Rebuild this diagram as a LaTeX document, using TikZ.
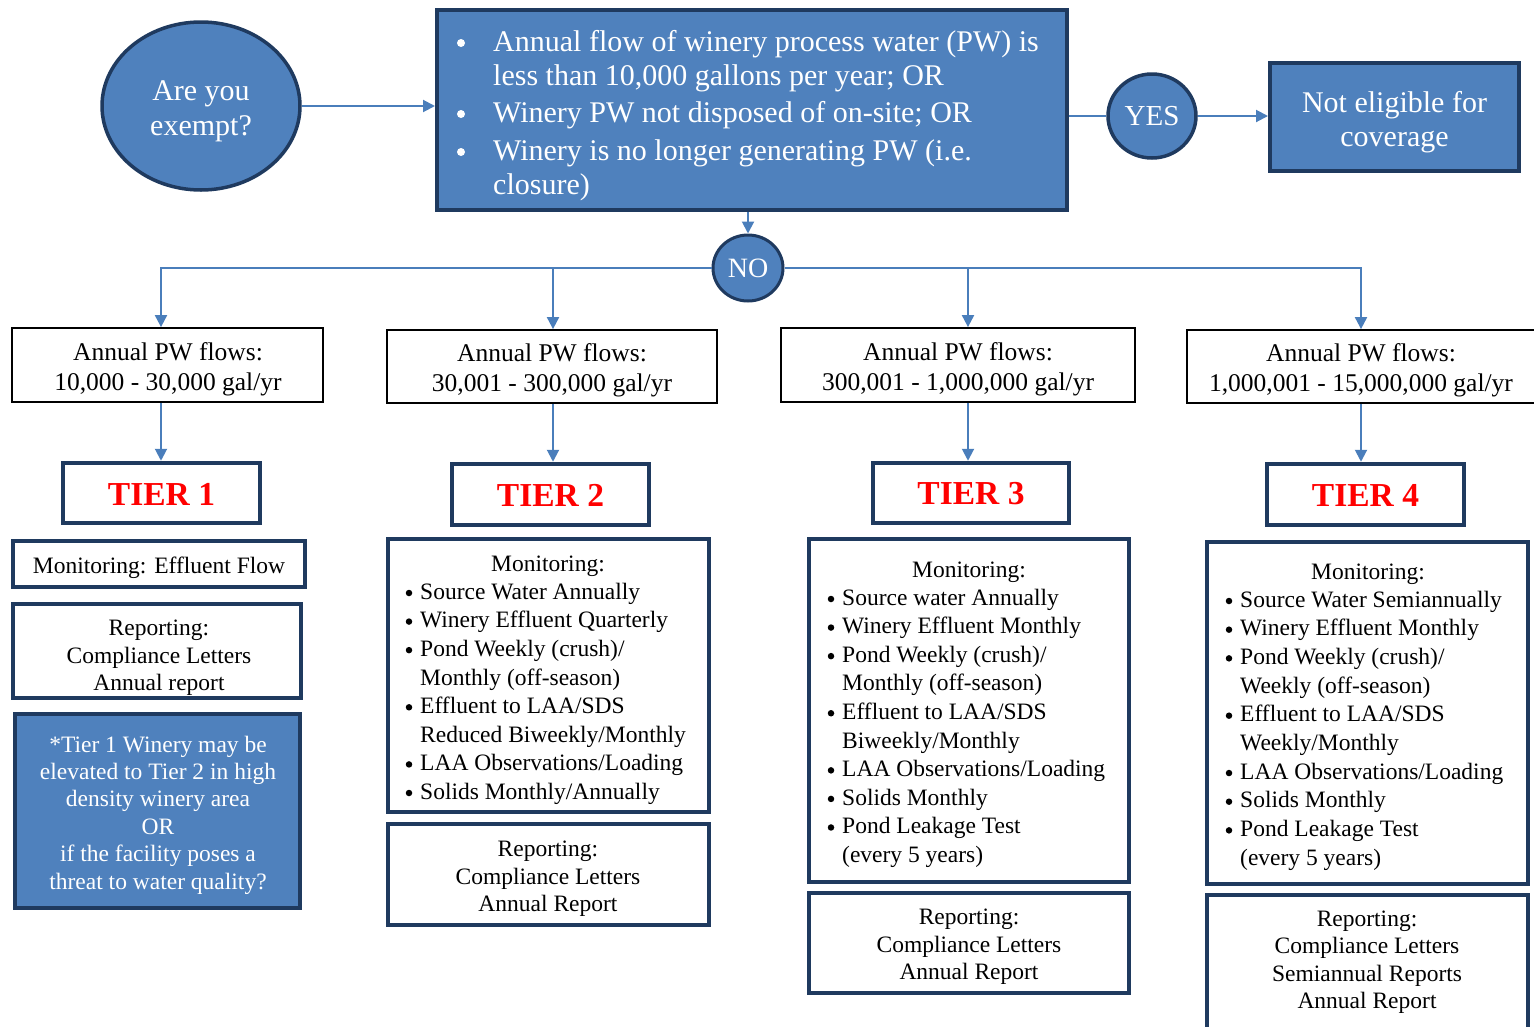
\documentclass[tikz,border=0pt]{standalone}
\usepackage{fontspec}
\setmainfont{Liberation Serif}
\usetikzlibrary{arrows.meta,shapes.geometric}
\definecolor{fillblue}{HTML}{4F81BD}
\definecolor{navy}{HTML}{1F3A5F}
\definecolor{arrowblue}{HTML}{4A7EBB}
\tikzset{
 bluebox/.style={rectangle, draw=navy, line width=4pt, fill=fillblue, inner sep=0},
 tierbox/.style={rectangle, draw=navy, line width=4.5pt, fill=white, inner sep=0},
 flowbox/.style={rectangle, draw=black, line width=1.8pt, fill=white, inner sep=0},
 infobox/.style={rectangle, draw=navy, line width=4pt, fill=white, inner sep=0},
 bluecirc/.style={ellipse, draw=navy, line width=3.5pt, fill=fillblue, text=white, inner sep=0, align=center},
 conn/.style={draw=arrowblue, line width=2pt},
 arr/.style={conn, -{Triangle[length=12pt,width=12pt]}},
 lbl/.style={font=\fontsize{23.5}{27.5}\selectfont, align=center, inner sep=0},
 flowlbl/.style={font=\fontsize{25.5}{30}\selectfont, align=center, inner sep=0},
 item/.style={font=\fontsize{23.5}{27.5}\selectfont, anchor=mid west, inner sep=0},
 bul/.style={circle, fill=black, inner sep=0, minimum size=6.5pt},
 mainitem/.style={font=\fontsize{30}{36}\selectfont, text=white, anchor=mid west, inner sep=0},
 mainbul/.style={circle, fill=white, inner sep=0, minimum size=8pt},
 tierlbl/.style={font=\fontsize{33.5}{36}\selectfont\bfseries, text=red, inner sep=0},
}
\newcommand\rbox[6]{\node[#6, minimum width={#4-#2}, minimum height={#5-#3}] (#1) at ({(#2+#4)/2},{(#3+#5)/2}) {};}
\begin{document}
\begin{tikzpicture}[x=1pt,y=-1pt]
\useasboundingbox (0,0) rectangle (1534,1026);
\begin{scope}
\clip (0,0) rectangle (1534,1026);
% top row
\node[bluecirc, minimum width=198pt, minimum height=168pt, font=\fontsize{30}{35}\selectfont] (q) at (201,106) {};
\node[font=\fontsize{30}{35}\selectfont, text=white, align=center, inner sep=0] (qt) at (201,111) {Are you\\exempt?};
\rbox{main}{437}{10}{1067}{210}{bluebox}
\node[mainbul] (mb1) at (461,43) {};
\node[mainitem] (m1) at (493,49) {Annual flow of winery process water (PW) is};
\node[mainitem] (m1b) at (493,83) {less than 10,000 gallons per year; OR};
\node[mainbul] (mb2) at (461,114) {};
\node[mainitem] (m2) at (493,120) {Winery PW not disposed of on-site; OR};
\node[mainbul] (mb3) at (461,152) {};
\node[mainitem] (m3) at (493,158) {Winery is no longer generating PW (i.e.};
\node[mainitem] (m3b) at (493,192) {closure)};
\node[bluecirc, minimum width=88pt, minimum height=84pt, font=\fontsize{29}{30}\selectfont] (yes) at (1152,116) {YES};
\rbox{ne}{1270}{63}{1519}{171}{bluebox}
\node[font=\fontsize{30}{34}\selectfont, text=white, align=center, inner sep=0] (netext) at (1394.5,122) {Not eligible for\\coverage};
\node[bluecirc, minimum width=70pt, minimum height=66pt, line width=3pt, font=\fontsize{28}{30}\selectfont] (no) at (748,268) {NO};
% connectors top
\draw[arr] (q.east) -- (q.east -| main.west);
\draw[conn] (yes.west -| main.east) -- (yes.west);
\draw[arr] (yes.east) -- (yes.east -| ne.west);
\draw[arr] (no.north |- main.south) -- (no.north);
\coordinate (b1) at (161,268);
\coordinate (b2) at (553,268);
\coordinate (b3) at (968,268);
\coordinate (b4) at (1361,268);
% flow boxes
\rbox{f1}{12}{328}{323}{402}{flowbox}
\rbox{f2}{387}{330}{717}{403}{flowbox}
\rbox{f3}{781}{328}{1135}{402}{flowbox}
\rbox{f4}{1187}{330}{1545}{403}{flowbox}
\node[flowlbl] (f1t) at (168,369) {Annual PW flows:\\10,000 - 30,000 gal/yr};
\node[flowlbl] (f2t) at (552,370) {Annual PW flows:\\30,001 - 300,000 gal/yr};
\node[flowlbl] (f3t) at (958,369) {Annual PW flows:\\300,001 - 1,000,000 gal/yr};
\node[flowlbl] (f4t) at (1361,370) {Annual PW flows:\\1,000,001 - 15,000,000 gal/yr};
\draw[arr] (no.west) -- (b1) -- (b1 |- f1.north);
\draw[arr] (b2) -- (b2 |- f2.north);
\draw[arr] (b3) -- (b3 |- f3.north);
\draw[arr] (no.east) -- (b4) -- (b4 |- f4.north);
% tier boxes
\rbox{t1}{63}{463}{260}{523}{tierbox}
\rbox{t2}{452}{464}{649}{525}{tierbox}
\rbox{t3}{873}{463}{1069}{523}{tierbox}
\rbox{t4}{1267}{464}{1464}{525}{tierbox}
\node[tierlbl] (t1t) at (161.5,494) {TIER 1};
\node[tierlbl] (t2t) at (550.5,495.5) {TIER 2};
\node[tierlbl] (t3t) at (971,494) {TIER 3};
\node[tierlbl] (t4t) at (1365.5,495.5) {TIER 4};
\draw[arr] (b1 |- f1.south) -- (b1 |- t1.north);
\draw[arr] (b2 |- f2.south) -- (b2 |- t2.north);
\draw[arr] (b3 |- f3.south) -- (b3 |- t3.north);
\draw[arr] (b4 |- f4.south) -- (b4 |- t4.north);
% tier 1 column
\rbox{mon1}{13}{541}{305}{587}{infobox}
\node[lbl] (mon1t) at (159,568) {Monitoring: Effluent Flow};
\rbox{rep1}{13}{604}{301}{698}{infobox}
\node[lbl] (rep1t) at (159,658) {Reporting:\\Compliance Letters\\Annual report};
\rbox{note1}{15}{714}{300}{908}{bluebox}
\node[lbl, text=white, font=\fontsize{23.5}{27.4}\selectfont] (note1t) at (158,815) {*Tier 1 Winery may be\\elevated to Tier 2 in high\\density winery area\\OR\\if the facility poses a\\threat to water quality?};
% tier 2 column
\rbox{mon2}{388}{539}{709}{812}{infobox}
\node[lbl] (mon2h) at (548,566) {Monitoring:};
\foreach \b/\t [count=\i] in {1/{Source Water Annually},1/{Winery Effluent Quarterly},1/{Pond Weekly (crush)/},0/{Monthly (off-season)},1/{Effluent to LAA/SDS},0/{Reduced Biweekly/Monthly},1/{LAA Observations/Loading},1/{Solids Monthly/Annually}}{
  \node[item] (m2-\i) at (420,{597+(\i-1)*28.57}) {\t};
  \ifnum\b=1 \node[bul] (m2b-\i) at (409,{593+(\i-1)*28.57}) {};\fi
}
\rbox{rep2}{388}{824}{709}{925}{infobox}
\node[lbl] (rep2t) at (548,879) {Reporting:\\Compliance Letters\\Annual Report};
% tier 3 column
\rbox{mon3}{809}{539}{1129}{882}{infobox}
\node[lbl] (mon3h) at (969,572) {Monitoring:};
\foreach \b/\t [count=\i] in {1/{Source water Annually},1/{Winery Effluent Monthly},1/{Pond Weekly (crush)/},0/{Monthly (off-season)},1/{Effluent to LAA/SDS},0/{Biweekly/Monthly},1/{LAA Observations/Loading},1/{Solids Monthly},1/{Pond Leakage Test},0/{(every 5 years)}}{
  \node[item] (m3-\i) at (842,{603+(\i-1)*28.56}) {\t};
  \ifnum\b=1 \node[bul] (m3b-\i) at (831,{599+(\i-1)*28.56}) {};\fi
}
\rbox{rep3}{809}{893}{1129}{993}{infobox}
\node[lbl] (rep3t) at (969,947) {Reporting:\\Compliance Letters\\Annual Report};
% tier 4 column
\rbox{mon4}{1207}{542}{1528}{884}{infobox}
\node[lbl] (mon4h) at (1368,574) {Monitoring:};
\foreach \b/\t [count=\i] in {1/{Source Water Semiannually},1/{Winery Effluent Monthly},1/{Pond Weekly (crush)/},0/{Weekly (off-season)},1/{Effluent to LAA/SDS},0/{Weekly/Monthly},1/{LAA Observations/Loading},1/{Solids Monthly},1/{Pond Leakage Test},0/{(every 5 years)}}{
  \node[item] (m4-\i) at (1240,{605+(\i-1)*28.67}) {\t};
  \ifnum\b=1 \node[bul] (m4b-\i) at (1229,{601+(\i-1)*28.67}) {};\fi
}
\rbox{rep4}{1207}{895}{1528}{1040}{infobox}
\node[lbl] (rep4t) at (1367,962) {Reporting:\\Compliance Letters\\Semiannual Reports\\Annual Report};
\end{scope}
\end{tikzpicture}
\end{document}
